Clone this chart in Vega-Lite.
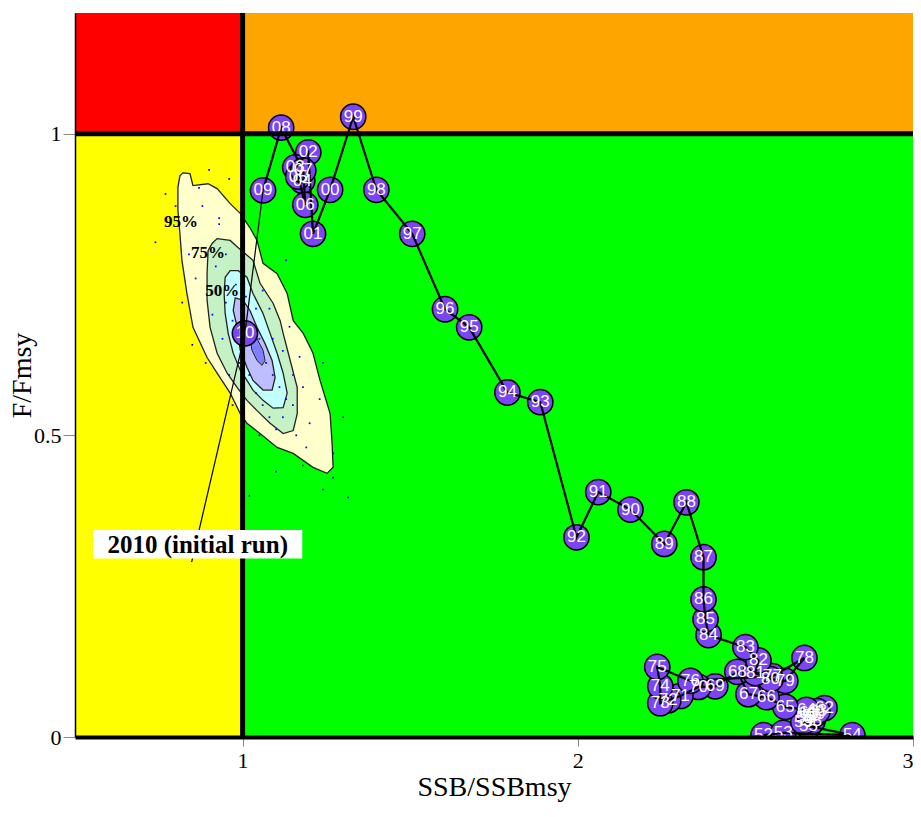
{
  "$schema": "https://vega.github.io/schema/vega-lite/v6.json",
  "width": 838,
  "height": 724,
  "autosize": {"type": "none"},
  "padding": {"left": 75, "top": 13, "right": 8, "bottom": 80},
  "background": "white",
  "config": {"view": {"stroke": null}},
  "datasets": {
    "zones": [
      {"zone": "red", "x1": 0.5, "x2": 1, "y1": 1, "y2": 1.2},
      {"zone": "orange", "x1": 1, "x2": 3, "y1": 1, "y2": 1.2},
      {"zone": "yellow", "x1": 0.5, "x2": 1, "y1": 0, "y2": 1},
      {"zone": "green", "x1": 1, "x2": 3, "y1": 0, "y2": 1}
    ],
    "contours": [
      {"level": "95", "i": 1, "x": 0.822, "y": 0.935},
      {"level": "95", "i": 2, "x": 0.843, "y": 0.934},
      {"level": "95", "i": 3, "x": 0.852, "y": 0.914},
      {"level": "95", "i": 4, "x": 0.897, "y": 0.917},
      {"level": "95", "i": 5, "x": 0.924, "y": 0.909},
      {"level": "95", "i": 6, "x": 0.963, "y": 0.884},
      {"level": "95", "i": 7, "x": 0.993, "y": 0.868},
      {"level": "95", "i": 8, "x": 1.022, "y": 0.844},
      {"level": "95", "i": 9, "x": 1.043, "y": 0.823},
      {"level": "95", "i": 10, "x": 1.061, "y": 0.785},
      {"level": "95", "i": 11, "x": 1.103, "y": 0.768},
      {"level": "95", "i": 12, "x": 1.133, "y": 0.735},
      {"level": "95", "i": 13, "x": 1.151, "y": 0.690},
      {"level": "95", "i": 14, "x": 1.181, "y": 0.669},
      {"level": "95", "i": 15, "x": 1.210, "y": 0.636},
      {"level": "95", "i": 16, "x": 1.231, "y": 0.591},
      {"level": "95", "i": 17, "x": 1.261, "y": 0.536},
      {"level": "95", "i": 18, "x": 1.267, "y": 0.487},
      {"level": "95", "i": 19, "x": 1.270, "y": 0.447},
      {"level": "95", "i": 20, "x": 1.252, "y": 0.437},
      {"level": "95", "i": 21, "x": 1.210, "y": 0.447},
      {"level": "95", "i": 22, "x": 1.151, "y": 0.470},
      {"level": "95", "i": 23, "x": 1.103, "y": 0.480},
      {"level": "95", "i": 24, "x": 1.052, "y": 0.503},
      {"level": "95", "i": 25, "x": 1.013, "y": 0.520},
      {"level": "95", "i": 26, "x": 0.993, "y": 0.536},
      {"level": "95", "i": 27, "x": 0.963, "y": 0.570},
      {"level": "95", "i": 28, "x": 0.924, "y": 0.603},
      {"level": "95", "i": 29, "x": 0.894, "y": 0.629},
      {"level": "95", "i": 30, "x": 0.852, "y": 0.679},
      {"level": "95", "i": 31, "x": 0.834, "y": 0.735},
      {"level": "95", "i": 32, "x": 0.819, "y": 0.790},
      {"level": "95", "i": 33, "x": 0.813, "y": 0.834},
      {"level": "95", "i": 34, "x": 0.807, "y": 0.873},
      {"level": "95", "i": 35, "x": 0.807, "y": 0.911},
      {"level": "95", "i": 36, "x": 0.813, "y": 0.930},
      {"level": "75", "i": 1, "x": 0.924, "y": 0.826},
      {"level": "75", "i": 2, "x": 0.963, "y": 0.823},
      {"level": "75", "i": 3, "x": 0.987, "y": 0.811},
      {"level": "75", "i": 4, "x": 1.031, "y": 0.790},
      {"level": "75", "i": 5, "x": 1.052, "y": 0.752},
      {"level": "75", "i": 6, "x": 1.091, "y": 0.719},
      {"level": "75", "i": 7, "x": 1.112, "y": 0.690},
      {"level": "75", "i": 8, "x": 1.121, "y": 0.669},
      {"level": "75", "i": 9, "x": 1.142, "y": 0.624},
      {"level": "75", "i": 10, "x": 1.163, "y": 0.579},
      {"level": "75", "i": 11, "x": 1.163, "y": 0.536},
      {"level": "75", "i": 12, "x": 1.151, "y": 0.508},
      {"level": "75", "i": 13, "x": 1.121, "y": 0.503},
      {"level": "75", "i": 14, "x": 1.082, "y": 0.520},
      {"level": "75", "i": 15, "x": 1.043, "y": 0.541},
      {"level": "75", "i": 16, "x": 1.013, "y": 0.558},
      {"level": "75", "i": 17, "x": 0.984, "y": 0.579},
      {"level": "75", "i": 18, "x": 0.954, "y": 0.603},
      {"level": "75", "i": 19, "x": 0.924, "y": 0.636},
      {"level": "75", "i": 20, "x": 0.903, "y": 0.679},
      {"level": "75", "i": 21, "x": 0.894, "y": 0.724},
      {"level": "75", "i": 22, "x": 0.894, "y": 0.768},
      {"level": "75", "i": 23, "x": 0.897, "y": 0.806},
      {"level": "75", "i": 24, "x": 0.909, "y": 0.818},
      {"level": "50", "i": 1, "x": 0.963, "y": 0.773},
      {"level": "50", "i": 2, "x": 0.987, "y": 0.773},
      {"level": "50", "i": 3, "x": 1.013, "y": 0.762},
      {"level": "50", "i": 4, "x": 1.031, "y": 0.735},
      {"level": "50", "i": 5, "x": 1.061, "y": 0.702},
      {"level": "50", "i": 6, "x": 1.082, "y": 0.669},
      {"level": "50", "i": 7, "x": 1.103, "y": 0.636},
      {"level": "50", "i": 8, "x": 1.121, "y": 0.603},
      {"level": "50", "i": 9, "x": 1.133, "y": 0.570},
      {"level": "50", "i": 10, "x": 1.121, "y": 0.546},
      {"level": "50", "i": 11, "x": 1.091, "y": 0.545},
      {"level": "50", "i": 12, "x": 1.061, "y": 0.558},
      {"level": "50", "i": 13, "x": 1.031, "y": 0.575},
      {"level": "50", "i": 14, "x": 1.013, "y": 0.591},
      {"level": "50", "i": 15, "x": 0.993, "y": 0.608},
      {"level": "50", "i": 16, "x": 0.972, "y": 0.636},
      {"level": "50", "i": 17, "x": 0.957, "y": 0.669},
      {"level": "50", "i": 18, "x": 0.948, "y": 0.702},
      {"level": "50", "i": 19, "x": 0.945, "y": 0.735},
      {"level": "50", "i": 20, "x": 0.948, "y": 0.762},
      {"level": "25", "i": 1, "x": 0.978, "y": 0.728},
      {"level": "25", "i": 2, "x": 1.001, "y": 0.724},
      {"level": "25", "i": 3, "x": 1.022, "y": 0.707},
      {"level": "25", "i": 4, "x": 1.043, "y": 0.679},
      {"level": "25", "i": 5, "x": 1.067, "y": 0.652},
      {"level": "25", "i": 6, "x": 1.088, "y": 0.624},
      {"level": "25", "i": 7, "x": 1.097, "y": 0.596},
      {"level": "25", "i": 8, "x": 1.088, "y": 0.575},
      {"level": "25", "i": 9, "x": 1.061, "y": 0.575},
      {"level": "25", "i": 10, "x": 1.031, "y": 0.591},
      {"level": "25", "i": 11, "x": 1.013, "y": 0.613},
      {"level": "25", "i": 12, "x": 0.993, "y": 0.641},
      {"level": "25", "i": 13, "x": 0.984, "y": 0.679},
      {"level": "25", "i": 14, "x": 0.972, "y": 0.707},
      {"level": "5", "i": 1, "x": 1.031, "y": 0.674},
      {"level": "5", "i": 2, "x": 1.046, "y": 0.657},
      {"level": "5", "i": 3, "x": 1.061, "y": 0.641},
      {"level": "5", "i": 4, "x": 1.067, "y": 0.624},
      {"level": "5", "i": 5, "x": 1.058, "y": 0.616},
      {"level": "5", "i": 6, "x": 1.043, "y": 0.624},
      {"level": "5", "i": 7, "x": 1.028, "y": 0.641},
      {"level": "5", "i": 8, "x": 1.022, "y": 0.662}
    ],
    "dots": [
      {"x": 0.96, "y": 0.925}, {"x": 0.90, "y": 0.94}, {"x": 0.93, "y": 0.86}, {"x": 0.74, "y": 0.82},
      {"x": 0.86, "y": 0.76}, {"x": 0.85, "y": 0.65}, {"x": 0.89, "y": 0.62}, {"x": 0.93, "y": 0.85},
      {"x": 1.13, "y": 0.79}, {"x": 1.17, "y": 0.63}, {"x": 1.24, "y": 0.62}, {"x": 1.30, "y": 0.53},
      {"x": 1.27, "y": 0.47}, {"x": 1.10, "y": 0.44}, {"x": 1.24, "y": 0.41}, {"x": 1.27, "y": 0.43},
      {"x": 1.02, "y": 0.40}, {"x": 1.05, "y": 0.50}, {"x": 0.95, "y": 0.72}, {"x": 0.97, "y": 0.69},
      {"x": 1.00, "y": 0.70}, {"x": 1.03, "y": 0.68}, {"x": 1.05, "y": 0.66}, {"x": 1.07, "y": 0.62},
      {"x": 1.09, "y": 0.60}, {"x": 1.11, "y": 0.58}, {"x": 1.13, "y": 0.56}, {"x": 1.15, "y": 0.55},
      {"x": 0.99, "y": 0.62}, {"x": 1.02, "y": 0.60}, {"x": 1.04, "y": 0.57}, {"x": 1.06, "y": 0.55},
      {"x": 1.08, "y": 0.53}, {"x": 1.10, "y": 0.51}, {"x": 0.98, "y": 0.75}, {"x": 1.01, "y": 0.73},
      {"x": 1.04, "y": 0.71}, {"x": 0.92, "y": 0.78}, {"x": 0.91, "y": 0.70}, {"x": 0.94, "y": 0.66},
      {"x": 0.96, "y": 0.60}, {"x": 1.12, "y": 0.64}, {"x": 1.15, "y": 0.60}, {"x": 1.18, "y": 0.58},
      {"x": 1.20, "y": 0.52}, {"x": 1.19, "y": 0.48}, {"x": 1.16, "y": 0.50}, {"x": 0.88, "y": 0.88},
      {"x": 0.84, "y": 0.80}, {"x": 0.82, "y": 0.72}, {"x": 1.08, "y": 0.71}, {"x": 1.14, "y": 0.68},
      {"x": 1.23, "y": 0.56}, {"x": 0.97, "y": 0.55}, {"x": 1.00, "y": 0.52}, {"x": 0.87, "y": 0.91},
      {"x": 0.80, "y": 0.88}, {"x": 1.315, "y": 0.397}, {"x": 0.77, "y": 0.90}, {"x": 1.06, "y": 0.74},
      {"x": 1.09, "y": 0.66}, {"x": 1.12, "y": 0.53}, {"x": 0.95, "y": 0.80}, {"x": 1.18, "y": 0.45}
    ],
    "traj": [
      {"yr": "52", "t": 1952, "x": 2.554, "y": 0.003},
      {"yr": "53", "t": 1953, "x": 2.613, "y": 0.007},
      {"yr": "54", "t": 1954, "x": 2.819, "y": 0.003},
      {"yr": "55", "t": 1955, "x": 2.688, "y": 0.018},
      {"yr": "56", "t": 1956, "x": 2.679, "y": 0.031},
      {"yr": "57", "t": 1957, "x": 2.697, "y": 0.035},
      {"yr": "58", "t": 1958, "x": 2.700, "y": 0.026},
      {"yr": "59", "t": 1959, "x": 2.673, "y": 0.025},
      {"yr": "60", "t": 1960, "x": 2.709, "y": 0.038},
      {"yr": "61", "t": 1961, "x": 2.688, "y": 0.040},
      {"yr": "62", "t": 1962, "x": 2.736, "y": 0.048},
      {"yr": "63", "t": 1963, "x": 2.715, "y": 0.043},
      {"yr": "64", "t": 1964, "x": 2.682, "y": 0.045},
      {"yr": "65", "t": 1965, "x": 2.619, "y": 0.050},
      {"yr": "66", "t": 1966, "x": 2.563, "y": 0.066},
      {"yr": "67", "t": 1967, "x": 2.509, "y": 0.071},
      {"yr": "68", "t": 1968, "x": 2.476, "y": 0.108},
      {"yr": "69", "t": 1969, "x": 2.410, "y": 0.084},
      {"yr": "70", "t": 1970, "x": 2.360, "y": 0.083},
      {"yr": "71", "t": 1971, "x": 2.306, "y": 0.068},
      {"yr": "72", "t": 1972, "x": 2.270, "y": 0.061},
      {"yr": "73", "t": 1973, "x": 2.246, "y": 0.056},
      {"yr": "74", "t": 1974, "x": 2.246, "y": 0.084},
      {"yr": "75", "t": 1975, "x": 2.237, "y": 0.116},
      {"yr": "76", "t": 1976, "x": 2.336, "y": 0.093},
      {"yr": "77", "t": 1977, "x": 2.581, "y": 0.101},
      {"yr": "78", "t": 1978, "x": 2.676, "y": 0.131},
      {"yr": "79", "t": 1979, "x": 2.619, "y": 0.093},
      {"yr": "80", "t": 1980, "x": 2.575, "y": 0.096},
      {"yr": "81", "t": 1981, "x": 2.530, "y": 0.106},
      {"yr": "82", "t": 1982, "x": 2.539, "y": 0.127},
      {"yr": "83", "t": 1983, "x": 2.500, "y": 0.149},
      {"yr": "84", "t": 1984, "x": 2.390, "y": 0.169},
      {"yr": "85", "t": 1985, "x": 2.381, "y": 0.195},
      {"yr": "86", "t": 1986, "x": 2.375, "y": 0.228},
      {"yr": "87", "t": 1987, "x": 2.375, "y": 0.298},
      {"yr": "88", "t": 1988, "x": 2.324, "y": 0.389},
      {"yr": "89", "t": 1989, "x": 2.258, "y": 0.320},
      {"yr": "90", "t": 1990, "x": 2.157, "y": 0.377},
      {"yr": "91", "t": 1991, "x": 2.061, "y": 0.406},
      {"yr": "92", "t": 1992, "x": 1.996, "y": 0.331},
      {"yr": "93", "t": 1993, "x": 1.888, "y": 0.555},
      {"yr": "94", "t": 1994, "x": 1.790, "y": 0.571},
      {"yr": "95", "t": 1995, "x": 1.676, "y": 0.679},
      {"yr": "96", "t": 1996, "x": 1.604, "y": 0.709},
      {"yr": "97", "t": 1997, "x": 1.506, "y": 0.834},
      {"yr": "98", "t": 1998, "x": 1.399, "y": 0.907},
      {"yr": "99", "t": 1999, "x": 1.330, "y": 1.028},
      {"yr": "00", "t": 2000, "x": 1.261, "y": 0.907},
      {"yr": "01", "t": 2001, "x": 1.210, "y": 0.834},
      {"yr": "02", "t": 2002, "x": 1.196, "y": 0.969},
      {"yr": "03", "t": 2003, "x": 1.157, "y": 0.944},
      {"yr": "04", "t": 2004, "x": 1.178, "y": 0.922},
      {"yr": "05", "t": 2005, "x": 1.166, "y": 0.929},
      {"yr": "06", "t": 2006, "x": 1.187, "y": 0.882},
      {"yr": "07", "t": 2007, "x": 1.181, "y": 0.939},
      {"yr": "08", "t": 2008, "x": 1.115, "y": 1.010},
      {"yr": "09", "t": 2009, "x": 1.061, "y": 0.906},
      {"yr": "10", "t": 2010, "x": 1.007, "y": 0.669}
    ],
    "leader": [
      {"i": 1, "x": 0.848, "y": 0.290},
      {"i": 2, "x": 1.007, "y": 0.669},
      {"i": 3, "x": 1.061, "y": 0.906}
    ],
    "clabels": [
      {"label": "95%", "x": 0.816, "y": 0.853},
      {"label": "75%", "x": 0.897, "y": 0.803},
      {"label": "50%", "x": 0.939, "y": 0.740}
    ],
    "one": [{"k": 1}]
  },
  "encoding": {
    "x": {"type": "quantitative", "scale": {"domain": [0.5, 3], "nice": false, "zero": false}},
    "y": {"type": "quantitative", "scale": {"domain": [0, 1.2], "nice": false, "zero": false}}
  },
  "layer": [
    {
      "data": {"name": "zones"},
      "mark": {"type": "rect"},
      "encoding": {
        "x": {"field": "x1", "type": "quantitative",
          "axis": {"values": [1, 2, 3], "format": "~g", "grid": false, "zindex": 1,
            "domainColor": "black", "domainWidth": 4, "tickColor": "#888888", "tickSize": 9, "tickWidth": 1,
            "labelFont": "Liberation Serif", "labelFontSize": 22, "labelColor": "black", "labelPadding": 4,
            "title": "SSB/SSBmsy", "titleFont": "Liberation Serif", "titleFontSize": 28, "titleFontWeight": "normal",
            "titleColor": "black", "titlePadding": 2}},
        "x2": {"field": "x2"},
        "y": {"field": "y1", "type": "quantitative",
          "axis": {"values": [0, 0.5, 1], "format": "~g", "grid": false, "zindex": 1,
            "domainColor": "black", "domainWidth": 1.5, "tickColor": "#888888", "tickSize": 12, "tickWidth": 1,
            "labelFont": "Liberation Serif", "labelFontSize": 22, "labelColor": "black", "labelPadding": 2,
            "title": "F/Fmsy", "titleFont": "Liberation Serif", "titleFontSize": 28, "titleFontWeight": "normal",
            "titleColor": "black", "titlePadding": -3}},
        "y2": {"field": "y2"},
        "color": {"field": "zone", "type": "nominal", "legend": null,
          "scale": {"domain": ["red", "orange", "yellow", "green"], "range": ["#ff0000", "#ffa500", "#ffff00", "#00ff00"]}}
      }
    },
    {
      "data": {"name": "contours"},
      "transform": [{"filter": "datum.level == '95'"}],
      "mark": {"type": "line", "interpolate": "linear-closed", "fill": "#ffffcc", "stroke": "#222222", "strokeWidth": 1.3},
      "encoding": {"x": {"field": "x", "type": "quantitative"}, "y": {"field": "y", "type": "quantitative"}, "order": {"field": "i", "type": "quantitative"}}
    },
    {
      "data": {"name": "contours"},
      "transform": [{"filter": "datum.level == '75'"}],
      "mark": {"type": "line", "interpolate": "linear-closed", "fill": "#c4f2c4", "stroke": "#222222", "strokeWidth": 1.3},
      "encoding": {"x": {"field": "x", "type": "quantitative"}, "y": {"field": "y", "type": "quantitative"}, "order": {"field": "i", "type": "quantitative"}}
    },
    {
      "data": {"name": "contours"},
      "transform": [{"filter": "datum.level == '50'"}],
      "mark": {"type": "line", "interpolate": "linear-closed", "fill": "#c2ffff", "stroke": "#222222", "strokeWidth": 1.3},
      "encoding": {"x": {"field": "x", "type": "quantitative"}, "y": {"field": "y", "type": "quantitative"}, "order": {"field": "i", "type": "quantitative"}}
    },
    {
      "data": {"name": "contours"},
      "transform": [{"filter": "datum.level == '25'"}],
      "mark": {"type": "line", "interpolate": "linear-closed", "fill": "#bdbdff", "stroke": "#222222", "strokeWidth": 1.3},
      "encoding": {"x": {"field": "x", "type": "quantitative"}, "y": {"field": "y", "type": "quantitative"}, "order": {"field": "i", "type": "quantitative"}}
    },
    {
      "data": {"name": "contours"},
      "transform": [{"filter": "datum.level == '5'"}],
      "mark": {"type": "line", "interpolate": "linear-closed", "fill": "#7f7fff", "stroke": "#222222", "strokeWidth": 1},
      "encoding": {"x": {"field": "x", "type": "quantitative"}, "y": {"field": "y", "type": "quantitative"}, "order": {"field": "i", "type": "quantitative"}}
    },
    {
      "data": {"name": "dots"},
      "mark": {"type": "square", "size": 3, "color": "#0000ff", "opacity": 1},
      "encoding": {"x": {"field": "x", "type": "quantitative"}, "y": {"field": "y", "type": "quantitative"}}
    },
    {
      "data": {"name": "traj"},
      "mark": {"type": "circle", "size": 640, "fill": "#7b45f6", "fillOpacity": 1, "stroke": "black", "strokeWidth": 1.5, "clip": true},
      "encoding": {"x": {"field": "x", "type": "quantitative"}, "y": {"field": "y", "type": "quantitative"}, "order": {"field": "t", "type": "quantitative"}}
    },
    {
      "data": {"name": "traj"},
      "transform": [{"filter": "datum.t <= 2009"}],
      "mark": {"type": "line", "color": "black", "strokeWidth": 2.2, "clip": true},
      "encoding": {"x": {"field": "x", "type": "quantitative"}, "y": {"field": "y", "type": "quantitative"}, "order": {"field": "t", "type": "quantitative"}}
    },
    {
      "data": {"name": "leader"},
      "mark": {"type": "line", "color": "black", "strokeWidth": 1.2},
      "encoding": {"x": {"field": "x", "type": "quantitative"}, "y": {"field": "y", "type": "quantitative"}, "order": {"field": "i", "type": "quantitative"}}
    },
    {
      "data": {"name": "traj"},
      "mark": {"type": "text", "color": "white", "font": "Liberation Sans", "fontSize": 17, "baseline": "middle", "align": "center", "clip": true},
      "encoding": {"x": {"field": "x", "type": "quantitative"}, "y": {"field": "y", "type": "quantitative"}, "text": {"field": "yr"}}
    },
    {
      "data": {"name": "one"},
      "mark": {"type": "rule", "color": "black", "strokeWidth": 5},
      "encoding": {"x": {"datum": 1}}
    },
    {
      "data": {"name": "one"},
      "mark": {"type": "rule", "color": "black", "strokeWidth": 5},
      "encoding": {"y": {"datum": 1}}
    },
    {
      "data": {"name": "one"},
      "mark": {"type": "rect", "fill": "white"},
      "encoding": {"x": {"datum": 0.554}, "x2": {"datum": 1.178}, "y": {"datum": 0.296}, "y2": {"datum": 0.343}}
    },
    {
      "data": {"name": "one"},
      "mark": {"type": "text", "text": "2010 (initial run)", "font": "Liberation Serif", "fontWeight": "bold", "fontSize": 25, "color": "black", "baseline": "middle", "align": "center"},
      "encoding": {"x": {"datum": 0.866}, "y": {"datum": 0.318}}
    },
    {
      "data": {"name": "clabels"},
      "mark": {"type": "text", "font": "Liberation Serif", "fontWeight": "bold", "fontSize": 17, "color": "black", "baseline": "middle", "align": "center"},
      "encoding": {"x": {"field": "x", "type": "quantitative"}, "y": {"field": "y", "type": "quantitative"}, "text": {"field": "label"}}
    }
  ]
}
